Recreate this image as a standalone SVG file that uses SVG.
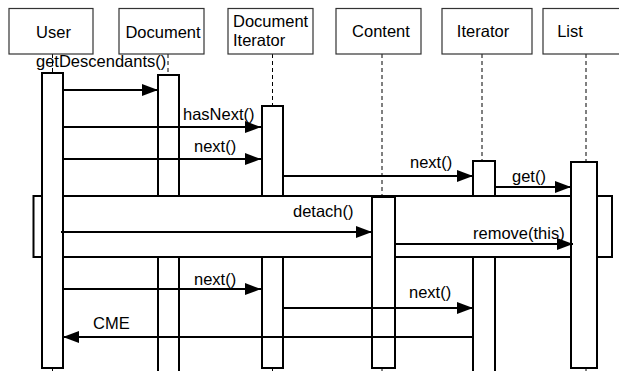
<svg xmlns="http://www.w3.org/2000/svg" width="619" height="371" viewBox="0 0 619 371">
  <style>
    text { font-family: "Liberation Sans", Arial, sans-serif; font-size: 16.5px; fill: #000; }
    .head { fill: #fff; stroke: #333; stroke-width: 1.2; }
    .life { stroke: #000; stroke-width: 1; stroke-dasharray: 4 3; fill: none; }
    .act { fill: #fff; stroke: #000; stroke-width: 2; }
    .frame { fill: #fff; stroke: #000; stroke-width: 2; }
    .msg { stroke: #000; stroke-width: 2; fill: none; }
  </style>
  <defs>
    <marker id="arrow" viewBox="0 0 16 12" refX="16" refY="6" markerWidth="16" markerHeight="12" markerUnits="userSpaceOnUse" orient="auto">
      <path d="M0,0 L16,6 L0,12 Z" fill="#000"/>
    </marker>
  </defs>
  <rect width="619" height="371" fill="#fff"/>

  <!-- lifelines -->
  <g id="lifelines">
    <line class="life" x1="52.5" y1="54" x2="52.5" y2="371"/>
    <line class="life" x1="168" y1="54" x2="168" y2="371"/>
    <line class="life" x1="272.5" y1="54" x2="272.5" y2="371"/>
    <line class="life" x1="382" y1="54" x2="382" y2="371"/>
    <line class="life" x1="482" y1="54" x2="482" y2="371"/>
    <line class="life" x1="586" y1="54" x2="586" y2="371"/>
  </g>

  <!-- participants -->
  <g id="user">
    <rect class="head" x="9" y="8.5" width="84" height="45.5"/>
    <text x="53.5" y="38" text-anchor="middle">User</text>
  </g>
  <g id="document">
    <rect class="head" x="119" y="8.5" width="85" height="45.5"/>
    <text x="163" y="38" text-anchor="middle">Document</text>
  </g>
  <g id="document-iterator">
    <rect class="head" x="228" y="8.5" width="85" height="45.5"/>
    <text x="233" y="27">Document</text>
    <text x="233" y="46">Iterator</text>
  </g>
  <g id="content">
    <rect class="head" x="336" y="8.5" width="85" height="45.5"/>
    <text x="381" y="37" text-anchor="middle">Content</text>
  </g>
  <g id="iterator">
    <rect class="head" x="442" y="8.5" width="90" height="45.5"/>
    <text x="483" y="37" text-anchor="middle">Iterator</text>
  </g>
  <g id="list">
    <rect class="head" x="543" y="8.5" width="90" height="45.5"/>
    <text x="570" y="37" text-anchor="middle">List</text>
  </g>

  <!-- activations under the loop frame -->
  <g id="activations-back">
    <rect class="act" x="158" y="75" width="21" height="300"/>
    <rect class="act" x="262" y="106" width="21" height="262"/>
    <rect class="act" x="473" y="161" width="22" height="214"/>
  </g>

  <!-- loop frame -->
  <g id="frame">
    <rect class="frame" x="33.5" y="196" width="578.5" height="61"/>
  </g>

  <!-- activations above the frame -->
  <g id="activations-front">
    <rect class="act" x="42" y="73" width="21" height="295"/>
    <rect class="act" x="372" y="197" width="23" height="171"/>
    <rect class="act" x="571" y="162" width="26" height="206"/>
  </g>

  <!-- messages -->
  <g id="connectors">
    <line class="msg" x1="63" y1="90" x2="158" y2="90" marker-end="url(#arrow)"/>
    <line class="msg" x1="63" y1="127" x2="261" y2="127" marker-end="url(#arrow)"/>
    <line class="msg" x1="63" y1="159" x2="261" y2="159" marker-end="url(#arrow)"/>
    <line class="msg" x1="283" y1="176" x2="473" y2="176" marker-end="url(#arrow)"/>
    <line class="msg" x1="495" y1="187" x2="571" y2="187" marker-end="url(#arrow)"/>
    <line class="msg" x1="61" y1="232" x2="372" y2="232" marker-end="url(#arrow)"/>
    <line class="msg" x1="395" y1="244" x2="573" y2="244" marker-end="url(#arrow)"/>
    <line class="msg" x1="63" y1="289" x2="261" y2="289" marker-end="url(#arrow)"/>
    <line class="msg" x1="283" y1="308" x2="473" y2="308" marker-end="url(#arrow)"/>
    <line class="msg" x1="473" y1="337" x2="63" y2="337" marker-end="url(#arrow)"/>
  </g>

  <!-- message labels -->
  <g id="labels">
    <text x="36" y="67">getDescendants()</text>
    <text x="183" y="120">hasNext()</text>
    <text x="194" y="152">next()</text>
    <text x="410" y="168">next()</text>
    <text x="512" y="182">get()</text>
    <text x="293" y="217">detach()</text>
    <text x="473" y="239">remove(this)</text>
    <text x="194" y="285">next()</text>
    <text x="409" y="298">next()</text>
    <text x="93" y="329">CME</text>
  </g>
</svg>
